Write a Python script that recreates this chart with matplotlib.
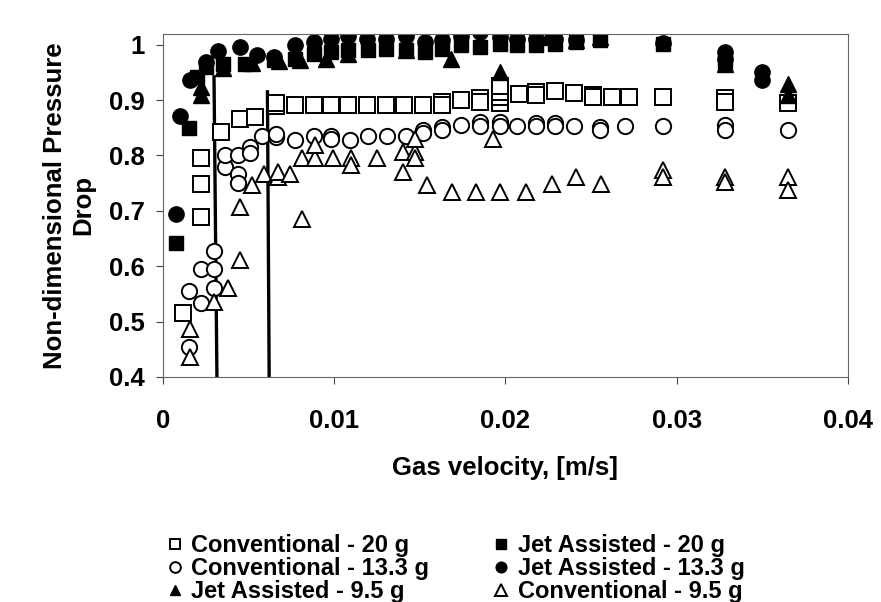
import matplotlib.pyplot as plt

plt.rcParams['font.family'] = ['Liberation Sans', 'DejaVu Sans']
plt.rcParams['font.weight'] = 'bold'

# Conventional column, 20 g liquid
conv20_x = [0.00116, 0.0022, 0.0022, 0.0022, 0.0034, 0.0045, 0.0054, 0.0066, 0.0066,
            0.0077, 0.0088, 0.0098, 0.0108, 0.0119, 0.0130, 0.0141, 0.0152, 0.0163, 0.0163,
            0.0174, 0.0185, 0.0185, 0.0197, 0.0197, 0.0197, 0.0197, 0.0208, 0.0218, 0.0218,
            0.0229, 0.0240, 0.0251, 0.0251, 0.0262, 0.0272, 0.0292, 0.0328, 0.0328, 0.0365]
conv20_y = [0.516, 0.689, 0.749, 0.795, 0.843, 0.865, 0.869, 0.889, 0.894,
            0.891, 0.891, 0.891, 0.891, 0.891, 0.891, 0.891, 0.891, 0.897, 0.892,
            0.900, 0.903, 0.897, 0.895, 0.905, 0.915, 0.925, 0.911, 0.915, 0.910,
            0.917, 0.912, 0.909, 0.905, 0.906, 0.906, 0.906, 0.903, 0.897, 0.894]

# Conventional column, 13.3 g liquid
conv13_x = [0.0015, 0.0015, 0.0022, 0.0022, 0.0030, 0.0030, 0.0030, 0.0036, 0.0036,
            0.0044, 0.0044, 0.0044, 0.0051, 0.0051, 0.0058, 0.0066, 0.0066, 0.0077, 0.0088,
            0.0098, 0.0098, 0.0109, 0.0120, 0.0131, 0.0142, 0.0152, 0.0152, 0.0163, 0.0163,
            0.0174, 0.0185, 0.0185, 0.0197, 0.0197, 0.0207, 0.0218, 0.0218, 0.0229, 0.0229,
            0.0240, 0.0255, 0.0255, 0.0270, 0.0292, 0.0328, 0.0328, 0.0365]
conv13_y = [0.454, 0.556, 0.533, 0.594, 0.560, 0.594, 0.627, 0.780, 0.800,
            0.800, 0.767, 0.750, 0.816, 0.805, 0.835, 0.833, 0.838, 0.828, 0.835,
            0.835, 0.830, 0.828, 0.835, 0.835, 0.835, 0.846, 0.840, 0.852, 0.846,
            0.855, 0.861, 0.853, 0.861, 0.853, 0.853, 0.859, 0.853, 0.859, 0.853,
            0.853, 0.852, 0.846, 0.853, 0.853, 0.855, 0.846, 0.846]

# Conventional column, 9.5 g liquid
conv95_x = [0.0016, 0.0016, 0.0030, 0.0038, 0.0045, 0.0045, 0.0052, 0.0059, 0.0067,
            0.0067, 0.0074, 0.0081, 0.0081, 0.0089, 0.0089, 0.0099, 0.0110, 0.0110, 0.0125,
            0.0140, 0.0140, 0.0147, 0.0147, 0.0147, 0.0154, 0.0169, 0.0183, 0.0193, 0.0197,
            0.0212, 0.0227, 0.0241, 0.0256, 0.0292, 0.0292, 0.0328, 0.0328, 0.0365, 0.0365]
conv95_y = [0.436, 0.487, 0.535, 0.560, 0.611, 0.707, 0.746, 0.767, 0.761,
            0.770, 0.767, 0.686, 0.795, 0.795, 0.819, 0.795, 0.795, 0.783, 0.795,
            0.770, 0.807, 0.807, 0.795, 0.830, 0.746, 0.734, 0.734, 0.830, 0.734,
            0.734, 0.749, 0.761, 0.749, 0.773, 0.761, 0.761, 0.752, 0.761, 0.737]

# Jet assisted column, 20 g liquid
jet20_x = [0.00074, 0.0015, 0.0020, 0.0025, 0.0035, 0.0048, 0.0065, 0.0077, 0.0088,
           0.0098, 0.0108, 0.0120, 0.0130, 0.0142, 0.0153, 0.0163, 0.0174, 0.0185, 0.0197,
           0.0207, 0.0218, 0.0229, 0.0241, 0.0255, 0.0292, 0.0328]
jet20_y = [0.641, 0.849, 0.942, 0.960, 0.966, 0.966, 0.972, 0.975, 0.984,
           0.987, 0.990, 0.990, 0.993, 0.990, 0.987, 0.993, 0.999, 0.996, 1.002,
           0.999, 0.999, 1.002, 1.005, 1.008, 1.002, 0.969]

# Jet assisted column, 13.3 g liquid
jet13_x = [0.00074, 0.0010, 0.0016, 0.0025, 0.0032, 0.0045, 0.0055, 0.0065, 0.0077,
           0.0088, 0.0098, 0.0108, 0.0119, 0.0130, 0.0142, 0.0153, 0.0163, 0.0174, 0.0185,
           0.0197, 0.0207, 0.0218, 0.0229, 0.0241, 0.0292, 0.0328, 0.0328, 0.0350, 0.0350]
jet13_y = [0.695, 0.871, 0.936, 0.969, 0.989, 0.996, 0.981, 0.978, 0.999,
           1.005, 1.011, 1.016, 1.010, 1.011, 1.016, 1.005, 1.008, 1.016, 1.023,
           1.014, 1.011, 1.011, 1.011, 1.008, 1.004, 0.987, 0.975, 0.951, 0.936]

# Jet assisted column, 9.5 g liquid
jet95_x = [0.0022, 0.0022, 0.0035, 0.0052, 0.0068, 0.0080, 0.0095, 0.0108, 0.0142,
           0.0168, 0.0197, 0.0225, 0.0241, 0.0255, 0.0328, 0.0365, 0.0365]
jet95_y = [0.909, 0.924, 0.958, 0.967, 0.970, 0.973, 0.975, 0.984, 0.990,
           0.975, 0.951, 1.014, 1.008, 1.014, 0.966, 0.930, 0.909]

# boundary lines
line1_x = [0.00315, 0.00298]
line1_y = [0.4, 0.942]
line2_x = [0.0062, 0.0061]
line2_y = [0.4, 0.915]

fig = plt.figure(figsize=(8.81, 6.02), dpi=100)
ax = fig.add_axes([0.185, 0.374, 0.7775, 0.57])

open_kw = dict(linestyle='none', markerfacecolor='white', markeredgecolor='black',
               markeredgewidth=1.4)
fill_kw = dict(linestyle='none', color='black')

ax.plot(line1_x, line1_y, color='black', lw=2.4, zorder=1)
ax.plot(line2_x, line2_y, color='black', lw=2.4, zorder=1)

h_c20, = ax.plot(conv20_x, conv20_y, 's', markersize=11, **open_kw)
h_c13, = ax.plot(conv13_x, conv13_y, 'o', markersize=11, **open_kw)
h_c95, = ax.plot(conv95_x, conv95_y, '^', markersize=12, **open_kw)
h_j20, = ax.plot(jet20_x, jet20_y, 's', markersize=10, **fill_kw)
h_j13, = ax.plot(jet13_x, jet13_y, 'o', markersize=11, **fill_kw)
h_j95, = ax.plot(jet95_x, jet95_y, '^', markersize=11, **fill_kw)

ax.set_xlim(0, 0.04)
ax.set_ylim(0.4, 1.02)
ax.set_xticks([0, 0.01, 0.02, 0.03, 0.04])
ax.set_xticklabels(['0', '0.01', '0.02', '0.03', '0.04'])
ax.set_yticks([0.4, 0.5, 0.6, 0.7, 0.8, 0.9, 1.0])
ax.set_yticklabels(['0.4', '0.5', '0.6', '0.7', '0.8', '0.9', '1'])
ax.tick_params(axis='both', labelsize=18.5, length=5, width=0.8, color='#444')
ax.tick_params(axis='x', pad=18)
ax.tick_params(axis='y', pad=8)
for s in ax.spines.values():
    s.set_linewidth(0.8)
    s.set_color('#666')

ax.set_xlabel('Gas velocity, [m/s]', fontsize=18.5, fontweight='bold', labelpad=17)
ax.set_ylabel('Non-dimensional Pressure\nDrop', fontsize=18.5, fontweight='bold',
              labelpad=10, linespacing=1.2)

handles = [h_c20, h_c13, h_j95, h_j20, h_j13, h_c95]
labels = ['Conventional - 20 g', 'Conventional - 13.3 g', 'Jet Assisted - 9.5 g',
          'Jet Assisted - 20 g', 'Jet Assisted - 13.3 g', 'Conventional - 9.5 g']
leg = fig.legend(handles, labels, loc='upper left', bbox_to_anchor=(0.178, 0.128),
                 ncol=2, frameon=False, fontsize=17, markerscale=0.7,
                 handlelength=0.7, handletextpad=0.35, labelspacing=0.0,
                 columnspacing=2.7, borderaxespad=0)

fig.savefig('out.png', dpi=100)
